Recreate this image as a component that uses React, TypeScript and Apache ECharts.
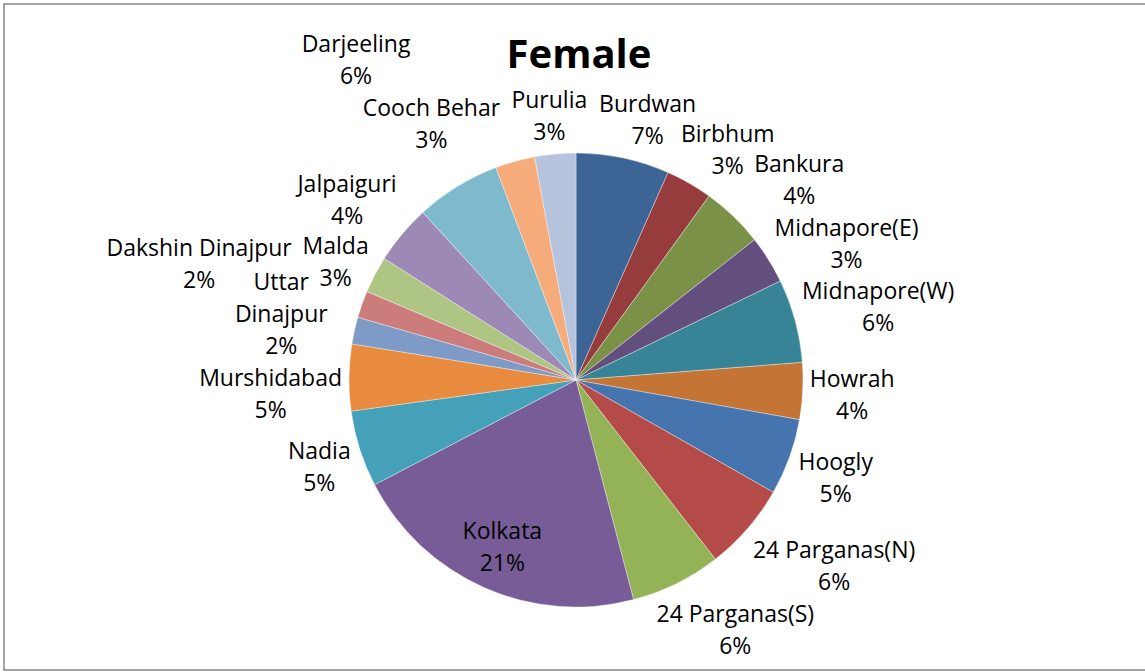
import React, { useEffect, useRef } from "react";
import * as echarts from "echarts";

const districts = [
  "Burdwan", "Birbhum", "Bankura", "Midnapore(E)", "Midnapore(W)", "Howrah",
  "Hoogly", "24 Parganas(N)", "24 Parganas(S)", "Kolkata", "Nadia", "Murshidabad",
  "Uttar Dinajpur", "Dakshin Dinajpur", "Malda", "Jalpaiguri", "Darjeeling",
  "Cooch Behar", "Purulia",
];
const femaleShare = [
  6.6, 3.3, 4.4, 3.4, 5.9, 4.0, 5.4, 6.2, 6.4, 21.3, 5.4, 4.7, 1.9, 1.9, 2.6, 4.2,
  6.0, 2.8, 2.9,
];
const sliceColors = [
  "#3C6494", "#963C3C", "#7A9147", "#634F7E", "#378496", "#C47535",
  "#4674AE", "#B54B48", "#94B256", "#785C97", "#45A1BA", "#E88B3E",
  "#7E9BC8", "#CB7C7B", "#AFC584", "#9C89B5", "#7EB9CD", "#F6AC7A", "#B5C3DD",
];
const titleText = "Female";

const W = 1145;
const H = 672;
const CX = 576;
const CY = 380;
const R = 227;
const INSIDE_INDEX = 9;
const LABEL_FONT = "23px 'Open Sans'";
const LINE_H = 32;
const TITLE_FONT_SIZE = 40;

function labelText(name: string, pct: number) {
  const n = name === "Uttar Dinajpur" ? "Uttar\nDinajpur" : name;
  return n + "\n" + pct + "%";
}

type Rect = { x0: number; x1: number; y0: number; y1: number };

function computeLabelPositions(total: number) {
  const canvas = document.createElement("canvas");
  const ctx = canvas.getContext("2d")!;
  ctx.font = LABEL_FONT;
  const mids: number[] = [];
  let acc = 0;
  femaleShare.forEach((v) => {
    mids.push(((acc + v / 2) / total) * Math.PI * 2);
    acc += v;
  });
  const lineWidths = districts.map((n, i) =>
    labelText(n, Math.round((femaleShare[i] / total) * 100))
      .split("\n")
      .map((l) => ctx.measureText(l).width)
  );
  ctx.font = `bold ${TITLE_FONT_SIZE}px 'Open Sans'`;
  const tw = ctx.measureText(titleText).width;

  const shrink = 1;
  const rectsAt = (i: number, x: number, y: number): Rect[] => {
    const ws = lineWidths[i];
    const n = ws.length;
    return ws.map((w, k) => {
      const cy = y + (k - (n - 1) / 2) * LINE_H;
      return { x0: x - w / 2, x1: x + w / 2, y0: cy - LINE_H / 2 + shrink, y1: cy + LINE_H / 2 - shrink };
    });
  };
  const padX = 10;
  const rOverlap = (a: Rect, b: Rect) =>
    a.x0 < b.x1 + padX && b.x0 < a.x1 + padX && a.y0 < b.y1 && b.y0 < a.y1;
  const hitsPie = (rs: Rect[]) =>
    rs.some((r) => {
      const nx = Math.max(r.x0, Math.min(CX, r.x1));
      const ny = Math.max(r.y0 + 3, Math.min(CY, r.y1 - 3));
      return Math.hypot(nx - CX, ny - CY) < R + 4;
    });
  const outOfBounds = (rs: Rect[]) =>
    rs.some((r) => r.x0 < 10 || r.x1 > W - 10 || r.y0 < 6 || r.y1 > H - 6);

  const placed: Rect[] = [
    { x0: 574 - tw / 2 - 2, x1: 574 + tw / 2 + 2, y0: 32, y1: 82 },
  ];
  const bad = (rs: Rect[]) =>
    hitsPie(rs) || outOfBounds(rs) || rs.some((r) => placed.some((p) => rOverlap(p, r)));

  const clamp = (v: number) => Math.max(-1, Math.min(1, v));
  const pos: { x: number; y: number }[] = new Array(districts.length);
  const order: number[] = [];
  for (let i = districts.length - 1; i > INSIDE_INDEX; i--) order.push(i);
  for (let i = 0; i < INSIDE_INDEX; i++) order.push(i);

  pos[INSIDE_INDEX] = {
    x: CX + R * 0.8 * Math.sin(mids[INSIDE_INDEX]),
    y: CY - R * 0.8 * Math.cos(mids[INSIDE_INDEX]),
  };

  for (const i of order) {
    const th = mids[i];
    const sn = Math.sin(th);
    const cs = -Math.cos(th);
    const w = Math.max(...lineWidths[i]);
    const h = lineWidths[i].length * LINE_H;
    const ar = R + 7;
    const bx = CX + ar * sn + (w / 2) * clamp(1.5 * sn);
    const by = CY + ar * cs + (h / 2) * clamp(1.5 * cs);
    let cx = bx;
    let cy = by;
    if (bad(rectsAt(i, bx, by))) {
      const dirs: [number, number, number][] = [
        [sn, cs, 1.25],
        [0, -1, 1],
        [0, 1, 1],
        [-1, 0, 1],
        [1, 0, 1],
      ];
      let found = false;
      for (let c = 2; c < 300 && !found; c += 2) {
        for (const [ux, uy, k] of dirs) {
          const s = c * k;
          const x = bx + ux * s;
          const y = by + uy * s;
          if (!bad(rectsAt(i, x, y))) {
            cx = x;
            cy = y;
            found = true;
            break;
          }
        }
      }
    }
    placed.push(...rectsAt(i, cx, cy));
    pos[i] = { x: cx, y: cy };
  }
  return pos;
}

export default function App() {
  const ref = useRef<HTMLDivElement>(null);
  useEffect(() => {
    if (!ref.current) return;
    const chart = echarts.init(ref.current, null, { renderer: "svg" });
    const total = femaleShare.reduce((a, b) => a + b, 0);
    const pos = computeLabelPositions(total);

    chart.setOption({
      animation: false,
      backgroundColor: "#ffffff",
      title: {
        text: titleText,
        left: 574,
        top: 27,
        textAlign: "center",
        textStyle: {
          fontFamily: "Open Sans",
          fontWeight: "bold",
          fontSize: TITLE_FONT_SIZE,
          color: "#000",
        },
      },
      graphic: [
        {
          type: "rect",
          shape: { x: 4, y: 4, width: 1160, height: 666 },
          style: { fill: "none", stroke: "#868686", lineWidth: 1.5 },
          silent: true,
        },
      ],
      series: [
        {
          type: "pie",
          center: [CX, CY],
          radius: R,
          startAngle: 90,
          clockwise: true,
          avoidLabelOverlap: false,
          itemStyle: { borderColor: "rgba(255,255,255,0.6)", borderWidth: 0.6 },
          label: {
            show: true,
            position: "outside",
            fontFamily: "Open Sans",
            fontSize: 23,
            lineHeight: LINE_H,
            color: "#000",
            align: "center",
            formatter: (p: any) =>
              labelText(p.name, Math.round((p.value / total) * 100)),
          },
          labelLine: { show: false, length: 5, length2: 0 },
          labelLayout: (params: any) => {
            const p = pos[params.dataIndex];
            return { x: p.x, y: p.y, align: "center", verticalAlign: "middle" };
          },
          emphasis: { disabled: true },
          data: districts.map((n, i) => ({
            name: n,
            value: femaleShare[i],
            itemStyle: { color: sliceColors[i] },
          })),
        },
      ],
    });
    return () => chart.dispose();
  }, []);
  return (
    <div
      ref={ref}
      style={{ position: "fixed", left: 0, top: 0, width: W, height: H }}
    />
  );
}
